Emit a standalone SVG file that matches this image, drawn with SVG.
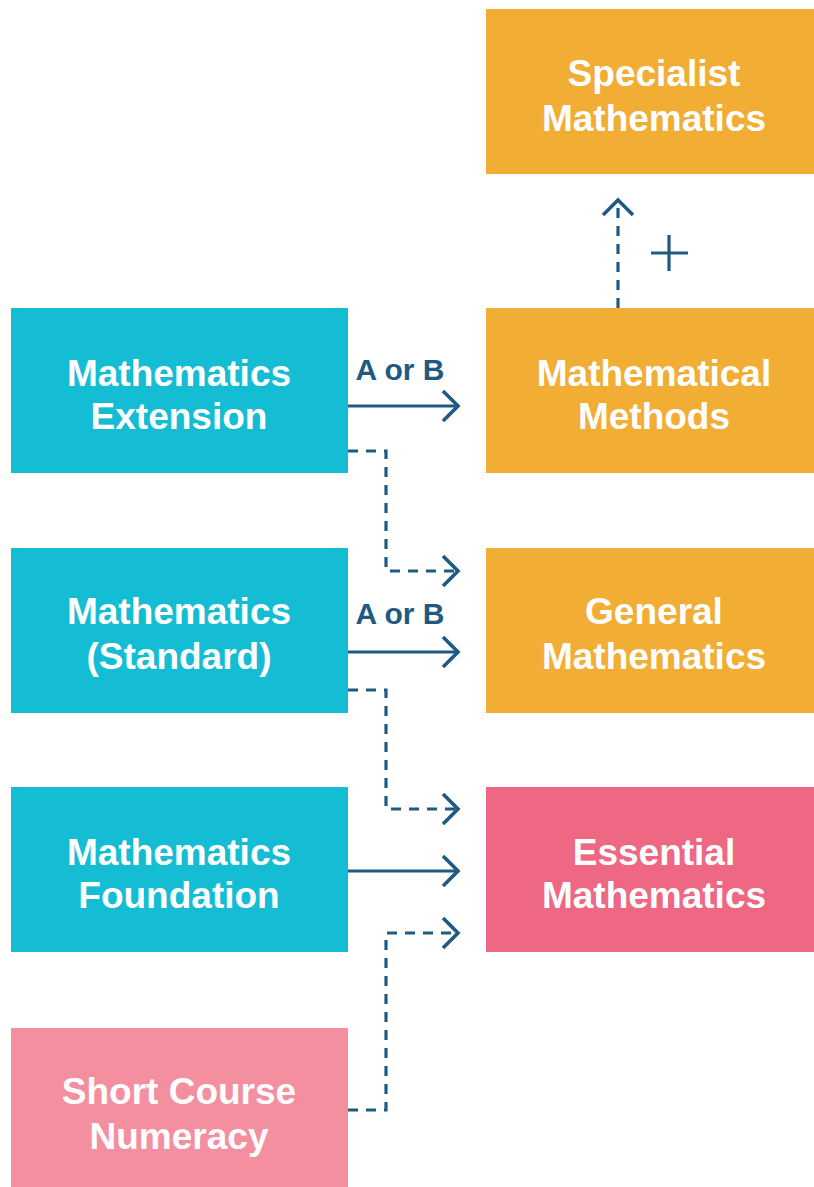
<svg xmlns="http://www.w3.org/2000/svg" width="814" height="1187" viewBox="0 0 814 1187">
<defs>
<style>
.t{font-family:"Liberation Sans",Arial,sans-serif;font-weight:bold;font-size:37px;fill:#fff;text-anchor:middle}
.lbl{font-family:"Liberation Sans",Arial,sans-serif;font-weight:bold;font-size:30px;fill:#1F5A82;text-anchor:middle}
.c{fill:none;stroke:#1F5A82;stroke-width:3.2}
.d{stroke-dasharray:10 8}
</style>
<marker id="ah" viewBox="0 0 20 32" refX="18" refY="16" markerWidth="20" markerHeight="32" markerUnits="userSpaceOnUse" orient="auto">
<path d="M2,1 L17,16 L2,31" fill="none" stroke="#1F5A82" stroke-width="3.6"/>
</marker>
</defs>
<rect width="814" height="1187" fill="#fff"/>
<g id="specialist"><rect x="486" y="9" width="336" height="165" fill="#F2AD35"/><text class="t" x="654" y="86">Specialist</text><text class="t" x="654" y="131">Mathematics</text></g>
<g id="methods"><rect x="486" y="308" width="336" height="165" fill="#F2AD35"/><text class="t" x="654" y="386">Mathematical</text><text class="t" x="654" y="429">Methods</text></g>
<g id="general"><rect x="486" y="548" width="336" height="165" fill="#F2AD35"/><text class="t" x="654" y="624">General</text><text class="t" x="654" y="669">Mathematics</text></g>
<g id="essential"><rect x="486" y="787" width="336" height="165" fill="#EE6783"/><text class="t" x="654" y="865">Essential</text><text class="t" x="654" y="908">Mathematics</text></g>
<g id="extension"><rect x="11" y="308" width="337" height="165" fill="#14BDD3"/><text class="t" x="179" y="386">Mathematics</text><text class="t" x="179" y="429">Extension</text></g>
<g id="standard"><rect x="11" y="548" width="337" height="165" fill="#14BDD3"/><text class="t" x="179" y="624">Mathematics</text><text class="t" x="179" y="669">(Standard)</text></g>
<g id="foundation"><rect x="11" y="787" width="337" height="165" fill="#14BDD3"/><text class="t" x="179" y="865">Mathematics</text><text class="t" x="179" y="908">Foundation</text></g>
<g id="numeracy"><rect x="11" y="1028" width="337" height="165" fill="#F48FA0"/><text class="t" x="179" y="1104">Short Course</text><text class="t" x="179" y="1149">Numeracy</text></g>
<g id="connectors">
<path class="c" d="M348,406 H459" marker-end="url(#ah)"/>
<text class="lbl" x="400" y="380">A or B</text>
<path class="c d" d="M348,451 H386 V571 H459" marker-end="url(#ah)"/>
<path class="c" d="M348,652 H459" marker-end="url(#ah)"/>
<text class="lbl" x="400" y="624">A or B</text>
<path class="c d" d="M348,690 H386 V809 H459" marker-end="url(#ah)"/>
<path class="c" d="M348,871 H459" marker-end="url(#ah)"/>
<path class="c d" d="M348,1110 H386 V933 H459" marker-end="url(#ah)"/>
<path class="c d" d="M618,308 V199" marker-end="url(#ah)"/>
<path class="c" d="M651,253 H688 M669,235 V271"/>
</g>
</svg>
